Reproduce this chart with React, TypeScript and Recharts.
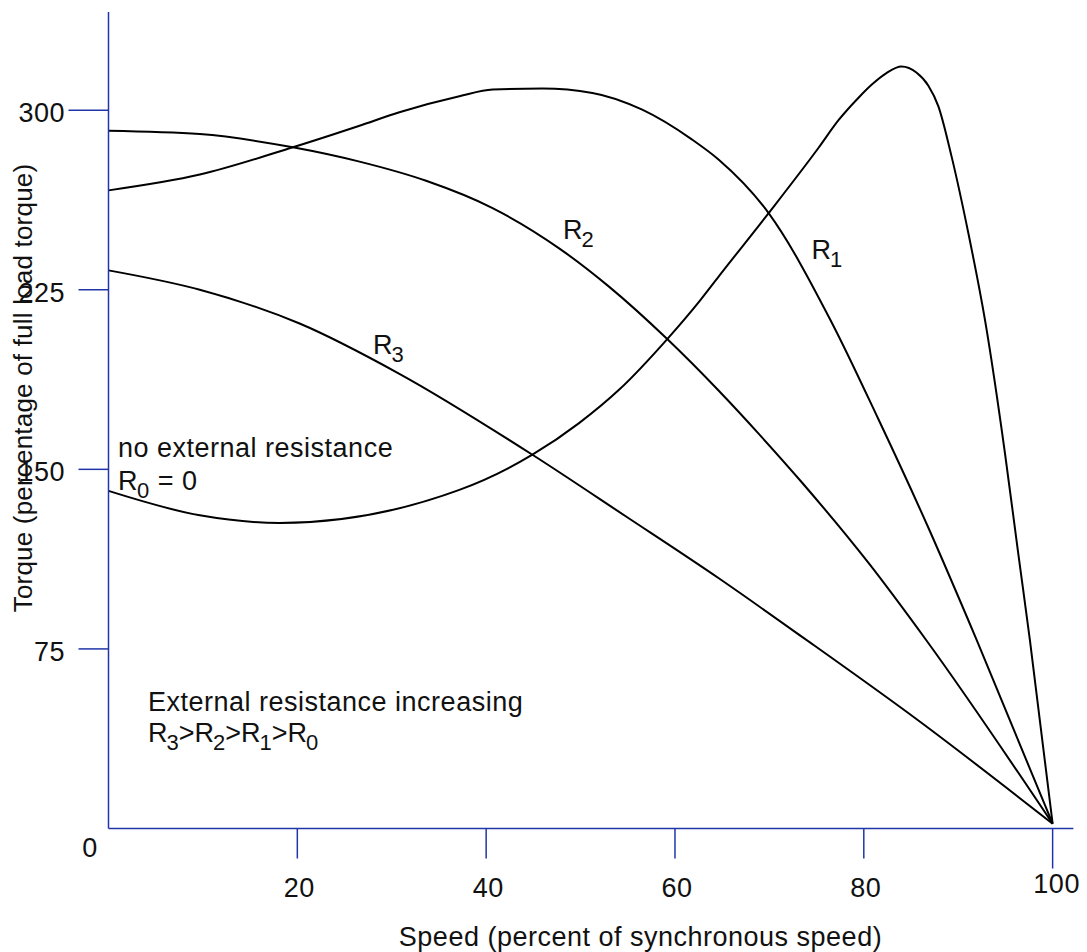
import React from 'react';
import { LineChart, Line, XAxis, YAxis, Customized } from 'recharts';

// Speed (% of synchronous) and torque (% of full-load torque) for each rotor resistance
const r0Speed = [0, 9.67, 18.13, 37.16, 44.9, 49.84, 54.07, 59.18, 62.71, 64.64, 69.92, 75.21, 77.32, 79.44, 80.85, 82.4, 83.99, 85.57, 86.84, 87.9, 89.3, 91.07, 92.83, 94.95, 96.35, 97.59, 100];
const r0Torque = [141.0, 130.8, 127.6, 141.4, 156.1, 169.3, 183.2, 204.4, 220.8, 230.6, 257.0, 284.3, 295.8, 305.2, 310.7, 315.5, 318.2, 315.7, 310.2, 301.6, 280.6, 248.7, 212.5, 156.8, 115.1, 78.8, 2];

const r1Speed = [0, 9.67, 19.53, 26.59, 30.81, 37.16, 40.68, 45.96, 51.25, 56.53, 61.82, 64.64, 69.92, 76.45, 81.55, 86.84, 91.95, 100];
const r1Torque = [266.5, 273.1, 284.5, 293.5, 299.1, 305.8, 308.6, 309.0, 307.2, 300.2, 287.7, 279.3, 257.0, 212.5, 170.9, 125.6, 78.8, 2];

const r2Speed = [0, 9.67, 19.53, 26.59, 33.64, 40.68, 47.73, 53.01, 59.18, 64.64, 68.88, 73.45, 80.5, 86.66, 100];
const r2Torque = [291.4, 290.0, 284.5, 278.5, 270.5, 259.1, 242.3, 226.3, 204.4, 182.8, 164.8, 144.5, 110.9, 78.4, 2];

const r3Speed = [0, 9.67, 20.24, 30.81, 44.9, 54.78, 64.64, 73.62, 85.78, 100];
const r3Torque = [233.1, 225.0, 210.9, 189.9, 156.1, 130.4, 104.5, 79.6, 45.1, 2];

const xTicks = [20, 40, 60, 80, 100];
const yTicks = [0, 75, 150, 225, 300];

const xTitle = 'Speed (percent of synchronous speed)';
const yTitle = 'Torque (percentage of full load torque)';

const toPoints = (s: number[], t: number[]) => s.map((x, i) => ({ speed: x, torque: t[i] }));

const FONT = '"Liberation Sans", Arial, Helvetica, sans-serif';
const AXIS = '#2036a8';
const TXT = '#111';
const FS = 27;
const SUB = 22;

const YTick = (props: any) => {
  const { x, y, payload } = props;
  const v = payload.value;
  if (v === 0) {
    return (
      <text x={x - 18.5} y={y + 19} textAnchor="middle" dominantBaseline="central" fontSize={FS} fontFamily={FONT} fill={TXT} letterSpacing={0.5}>
        {v}
      </text>
    );
  }
  const len = v === 300 ? 40 : 30;
  return (
    <g>
      <line x1={x - len} x2={x} y1={y} y2={y} stroke={AXIS} strokeWidth={1.5} />
      <text x={x - 43.5} y={y + 3} textAnchor="end" dominantBaseline="central" fontSize={FS} fontFamily={FONT} fill={TXT} letterSpacing={0.5}>
        {v}
      </text>
    </g>
  );
};

const XTick = (props: any) => {
  const { x, y, payload } = props;
  const v = payload.value;
  const last = v === 100;
  const len = last ? 40 : 30;
  return (
    <g>
      <line x1={x} x2={x} y1={y} y2={y + len} stroke={AXIS} strokeWidth={1.5} />
      <text x={last ? x + 4 : x + 2} y={last ? y + 55 : y + 59} textAnchor="middle" dominantBaseline="central" fontSize={FS} fontFamily={FONT} fill={TXT} letterSpacing={0.5}>
        {v}
      </text>
    </g>
  );
};

const RLabel = ({ x, y, sub }: { x: number; y: number; sub: string }) => (
  <text x={x} y={y} fontSize={FS} fontFamily={FONT} fill={TXT}>
    <tspan>R</tspan>
    <tspan dx={-1} dy={8} fontSize={SUB}>{sub}</tspan>
  </text>
);

const Annotations = () => (
  <g>
    <text x={32} y={388} transform="rotate(-90 32 388)" textAnchor="middle" fontSize={26} fontFamily={FONT} fill={TXT} letterSpacing={0.2}>
      {yTitle}
    </text>
    <text x={640.5} y={946} textAnchor="middle" fontSize={FS} fontFamily={FONT} fill={TXT} letterSpacing={0.5}>
      {xTitle}
    </text>
    <RLabel x={563} y={238.5} sub="2" />
    <RLabel x={811.5} y={258.5} sub="1" />
    <RLabel x={373} y={353.5} sub="3" />
    <text x={118} y={457} fontSize={FS} fontFamily={FONT} fill={TXT} letterSpacing={0.5}>no external resistance</text>
    <text x={118} y={490} fontSize={FS} fontFamily={FONT} fill={TXT} letterSpacing={0.5}>
      <tspan>R</tspan>
      <tspan dx={-1} dy={8} fontSize={SUB}>0</tspan>
      <tspan dy={-8}> = 0</tspan>
    </text>
    <text x={148} y={711} fontSize={FS} fontFamily={FONT} fill={TXT} letterSpacing={0.5}>External resistance increasing</text>
    <text x={148} y={741.5} fontSize={FS} fontFamily={FONT} fill={TXT}>
      <tspan>R</tspan>
      <tspan dx={-1} dy={8} fontSize={SUB}>3</tspan>
      <tspan dy={-8}>&gt;R</tspan>
      <tspan dx={-1} dy={8} fontSize={SUB}>2</tspan>
      <tspan dy={-8}>&gt;R</tspan>
      <tspan dx={-1} dy={8} fontSize={SUB}>1</tspan>
      <tspan dy={-8}>&gt;R</tspan>
      <tspan dx={-1} dy={8} fontSize={SUB}>0</tspan>
    </text>
  </g>
);

const series = [
  { key: 'R0', speed: r0Speed, torque: r0Torque },
  { key: 'R1', speed: r1Speed, torque: r1Torque },
  { key: 'R2', speed: r2Speed, torque: r2Torque },
  { key: 'R3', speed: r3Speed, torque: r3Torque },
];

export default function App() {
  return (
    <div style={{ position: 'absolute', left: 0, top: 0, width: 1087, height: 952, background: '#fff' }}>
      <LineChart
        width={1087}
        height={952}
        margin={{ top: 12, right: 13.6, bottom: 83.5, left: 68.5 }}
        style={{ fontFamily: FONT }}
      >
        <XAxis
          dataKey="speed"
          type="number"
          domain={[0, 102.2]}
          allowDataOverflow
          ticks={xTicks}
          interval={0}
          height={40}
          tickSize={0}
          tickMargin={0}
          tickLine={false}
          axisLine={{ stroke: AXIS, strokeWidth: 1.5 }}
          tick={<XTick />}
        />
        <YAxis
          type="number"
          domain={[0, 341]}
          allowDataOverflow
          ticks={yTicks}
          interval={0}
          width={40}
          tickSize={0}
          tickMargin={0}
          tickLine={false}
          axisLine={{ stroke: AXIS, strokeWidth: 1.5 }}
          tick={<YTick />}
        />
        {series.map((s) => (
          <Line
            key={s.key}
            data={toPoints(s.speed, s.torque)}
            dataKey="torque"
            type="monotone"
            stroke="#000"
            strokeWidth={2}
            dot={false}
            activeDot={false}
            isAnimationActive={false}
          />
        ))}
        <Customized component={Annotations} />
      </LineChart>
    </div>
  );
}
